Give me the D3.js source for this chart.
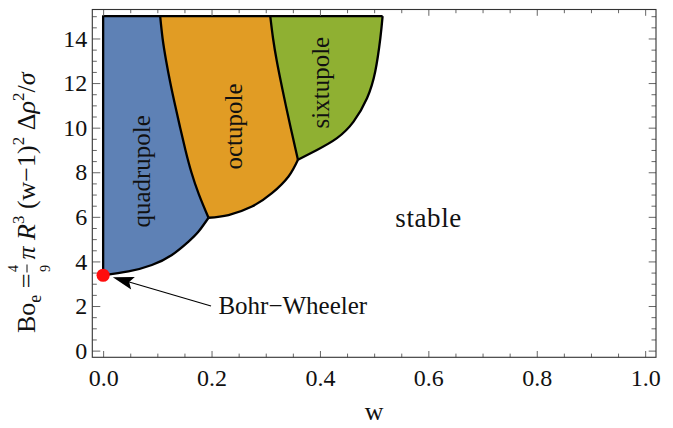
<!DOCTYPE html>
<html>
<head>
<meta charset="utf-8">
<script src="https://cdn.jsdelivr.net/npm/d3@7"></script>
<style>
  html, body { margin: 0; padding: 0; background: #fff; }
  svg { display: block; }
  text { font-family: "Liberation Serif", "Times New Roman", serif; fill: #111; }
</style>
</head>
<body>
<svg id="chart" width="673" height="428"></svg>
<script>
// Axis tick values
const xTicks = [0, 0.2, 0.4, 0.6, 0.8, 1.0];
const xMinorTicks = [0.05, 0.1, 0.15, 0.25, 0.3, 0.35, 0.45, 0.5, 0.55, 0.65, 0.7, 0.75, 0.85, 0.9, 0.95];
const yTicks = [0, 2, 4, 6, 8, 10, 12, 14];
const yMinorTicks = [0.5, 1, 1.5, 2.5, 3, 3.5, 4.5, 5, 5.5, 6.5, 7, 7.5, 8.5, 9, 9.5, 10.5, 11, 11.5, 12.5, 13, 13.5, 14.5, 15];

// Instability boundaries, as [w, Bo_e] pairs
const bohrWheeler = [0, 3.38];
const quadBottom = [[0, 3.38], [0.0467, 3.55], [0.0899, 3.84], [0.1268, 4.29], [0.1575, 4.89], [0.176, 5.34], [0.1944, 5.96]];
const quadOct = [[0.1944, 5.96], [0.1768, 7], [0.1628, 8], [0.1518, 9], [0.1421, 10], [0.1328, 11], [0.124, 12], [0.1162, 13], [0.1097, 14], [0.1052, 15]];
const octBottom = [[0.1944, 5.96], [0.2313, 6.08], [0.2745, 6.46], [0.3114, 7.06], [0.342, 7.81], [0.3594, 8.56]];
const octSix = [[0.3594, 8.56], [0.3553, 9], [0.346, 10], [0.337, 11], [0.3284, 12], [0.3203, 13], [0.3135, 14], [0.3083, 15]];
const sixBottom = [[0.3594, 8.56], [0.3945, 9.0], [0.4314, 9.53], [0.462, 10.27], [0.4868, 11.32], [0.502, 12.52], [0.5114, 14.01], [0.5156, 15]];
const boTop = 15;

// Region names and label anchors [w, Bo_e]
const regionNames = ["quadrupole", "octupole", "sixtupole"];
const regionLabelPos = [[0.087, 8.04], [0.257, 10.05], [0.416, 12.02]];
const regionColors = ["#5e81b5", "#e19c24", "#8fb032"];
const stableLabel = "stable";
const stableLabelPos = [0.539, 5.54];
const arrowLabel = "Bohr\u2212Wheeler";
const arrowLabelPos = [0.2127, 1.65];
const arrowTail = [0.199, 2.0];
const arrowTip = [0.0179, 3.29];

const svg = d3.select("#chart");
const W = 673, H = 428;
const margin = { left: 92.3, right: 17, top: 9.5, bottom: 70.7 };
const serif = "'Liberation Serif', 'Times New Roman', serif";

const x = d3.scaleLinear().domain([-0.02, 1.02]).range([margin.left, W - margin.right]);
const y = d3.scaleLinear().domain([-0.3, 15.3]).range([H - margin.bottom, margin.top]);

const boundary = d3.line()
  .x(d => x(d[0]))
  .y(d => y(d[1]))
  .curve(d3.curveNatural);

// Sample a smooth boundary into pixel points so regions can be filled as polygons
const tmp = svg.append("path").attr("fill", "none");
function sample(pts, n = 80) {
  tmp.attr("d", boundary(pts));
  const node = tmp.node();
  const L = node.getTotalLength();
  const out = [];
  for (let i = 0; i <= n; i++) {
    const p = node.getPointAtLength(L * i / n);
    out.push([p.x, p.y]);
  }
  return out;
}
const sQB = sample(quadBottom), sQO = sample(quadOct), sOB = sample(octBottom),
      sOS = sample(octSix), sSB = sample(sixBottom);
tmp.remove();

const polys = [
  [[x(0), y(boTop)], [x(0), y(quadBottom[0][1])], ...sQB, ...sQO],
  [...sQO, ...sOS.slice().reverse(), ...sOB.slice().reverse()],
  [...sOS, ...sSB.slice().reverse()]
];
const poly = d3.line();
svg.append("g").selectAll("path").data(polys).join("path")
  .attr("d", d => poly(d) + "Z")
  .attr("fill", (d, i) => regionColors[i])
  .attr("stroke", "none");

// Boundary strokes
const strokes = svg.append("g").attr("fill", "none").attr("stroke", "#000")
  .attr("stroke-width", 2.3).attr("stroke-linejoin", "round");
[quadBottom, quadOct, octBottom, octSix, sixBottom].forEach(b => strokes.append("path").attr("d", boundary(b)));
strokes.append("path").attr("d", d3.line()([[x(0), y(quadBottom[0][1])], [x(0), y(boTop)], [x(sixBottom[sixBottom.length - 1][0]), y(boTop)]]));

// Frame with inward ticks on all four sides
const frame = svg.append("g");
function styleAxis(g) {
  g.attr("font-family", null).attr("font-size", null);
  g.select(".domain").remove();
  g.selectAll(".tick line").attr("stroke", "#666").attr("stroke-width", 1);
  g.selectAll(".tick text").style("font-family", serif).style("font-size", "24px").attr("fill", "#111");
}
const fmtX = d3.format(".1f");
frame.append("g").attr("transform", `translate(0,${y(-0.3)})`)
  .call(d3.axisBottom(x).tickValues(xMinorTicks).tickSize(-3.7).tickFormat("")).call(styleAxis);
frame.append("g").attr("transform", `translate(0,${y(-0.3)})`)
  .call(d3.axisBottom(x).tickValues(xTicks).tickSize(-6.3).tickPadding(12).tickFormat(fmtX)).call(styleAxis);
frame.append("g").attr("transform", `translate(0,${y(15.3)})`)
  .call(d3.axisTop(x).tickValues(xMinorTicks).tickSize(-3.7).tickFormat("")).call(styleAxis);
frame.append("g").attr("transform", `translate(0,${y(15.3)})`)
  .call(d3.axisTop(x).tickValues(xTicks).tickSize(-6.3).tickFormat("")).call(styleAxis);
frame.append("g").attr("transform", `translate(${x(-0.02)},0)`)
  .call(d3.axisLeft(y).tickValues(yMinorTicks).tickSize(-4.5).tickFormat("")).call(styleAxis);
frame.append("g").attr("transform", `translate(${x(-0.02)},0)`)
  .call(d3.axisLeft(y).tickValues(yTicks).tickSize(-8).tickPadding(5).tickFormat(d3.format("d"))).call(styleAxis);
frame.append("g").attr("transform", `translate(${x(1.02)},0)`)
  .call(d3.axisRight(y).tickValues(yMinorTicks).tickSize(-4.5).tickFormat("")).call(styleAxis);
frame.append("g").attr("transform", `translate(${x(1.02)},0)`)
  .call(d3.axisRight(y).tickValues(yTicks).tickSize(-7.3).tickFormat("")).call(styleAxis);
frame.append("rect")
  .attr("x", x(-0.02)).attr("y", y(15.3))
  .attr("width", x(1.02) - x(-0.02)).attr("height", y(-0.3) - y(15.3))
  .attr("fill", "none").attr("stroke", "#333").attr("stroke-width", 1.1);

// Region labels, rotated
svg.append("g").selectAll("text").data(regionNames).join("text")
  .attr("transform", (d, i) => `translate(${x(regionLabelPos[i][0])},${y(regionLabelPos[i][1])}) rotate(-90)`)
  .attr("text-anchor", "middle")
  .attr("font-size", 25)
  .text(d => d);

svg.append("text")
  .attr("x", x(stableLabelPos[0])).attr("y", y(stableLabelPos[1]))
  .attr("font-size", 27).attr("letter-spacing", 0.6)
  .text(stableLabel);

// Bohr–Wheeler point and arrow
const tx = x(arrowTail[0]), ty = y(arrowTail[1]), hx = x(arrowTip[0]), hy = y(arrowTip[1]);
const ang = Math.atan2(hy - ty, hx - tx);
const headLen = 21, headHalf = 6.5, notch = 4;
const ux = Math.cos(ang), uy = Math.sin(ang), vx = -uy, vy = ux;
const bx = hx - ux * headLen, by = hy - uy * headLen;
svg.append("line")
  .attr("x1", tx).attr("y1", ty)
  .attr("x2", bx + ux * notch).attr("y2", by + uy * notch)
  .attr("stroke", "#000").attr("stroke-width", 1.2);
svg.append("path")
  .attr("d", d3.line()([
    [hx, hy],
    [bx + vx * headHalf, by + vy * headHalf],
    [bx + ux * notch, by + uy * notch],
    [bx - vx * headHalf, by - vy * headHalf]
  ]) + "Z")
  .attr("fill", "#000");
svg.append("circle")
  .attr("cx", x(bohrWheeler[0])).attr("cy", y(bohrWheeler[1]))
  .attr("r", 6.6).attr("fill", "#ff0d0d");
svg.append("text")
  .attr("x", x(arrowLabelPos[0])).attr("y", y(arrowLabelPos[1]))
  .attr("font-size", 25)
  .text(arrowLabel);

// Axis titles
svg.append("text")
  .attr("x", x(0.5)).attr("y", 420)
  .attr("text-anchor", "middle").attr("font-size", 26)
  .text("w");

const yl = svg.append("g").attr("transform", "translate(35,333) rotate(-90)");
const t1 = yl.append("text").attr("font-size", 26);
t1.append("tspan").text("Bo");
t1.append("tspan").attr("font-size", 18).attr("dy", 6).text("e");
t1.append("tspan").attr("dy", -6).text(" = ");
const L1 = t1.node().getComputedTextLength();
const fx = L1 + 5;
yl.append("text").attr("x", fx).attr("y", -17).attr("font-size", 14).attr("text-anchor", "middle").text("4");
yl.append("line").attr("x1", fx - 4).attr("x2", fx + 4).attr("y1", -8).attr("y2", -8)
  .attr("stroke", "#111").attr("stroke-width", 1);
yl.append("text").attr("x", fx).attr("y", 15).attr("font-size", 14).attr("text-anchor", "middle").text("9");
const t2 = yl.append("text").attr("x", fx + 9).attr("font-size", 26);
t2.append("tspan").attr("font-style", "italic").text("\u03c0");
t2.append("tspan").text(" ");
t2.append("tspan").attr("font-style", "italic").text("R");
t2.append("tspan").attr("font-size", 17).attr("dy", -11).text("3");
t2.append("tspan").attr("dy", 11).text(" (w\u22121)");
t2.append("tspan").attr("font-size", 17).attr("dy", -11).text("2");
t2.append("tspan").attr("dy", 11).text(" \u0394");
t2.append("tspan").attr("font-style", "italic").text("\u03c1");
t2.append("tspan").attr("font-size", 17).attr("dy", -11).text("2");
t2.append("tspan").attr("dy", 11).text("/");
t2.append("tspan").attr("font-style", "italic").text("\u03c3");
</script>
</body>
</html>
